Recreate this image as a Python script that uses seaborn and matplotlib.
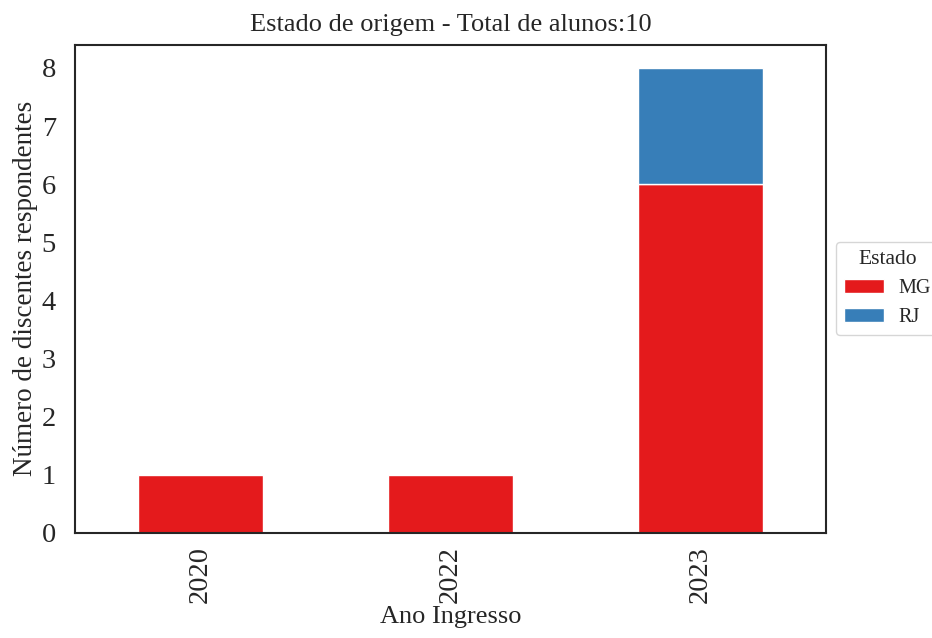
import pandas as pd
import matplotlib.pyplot as plt
import seaborn as sns
from matplotlib.ticker import MultipleLocator

# Dados
anos = ['2020', '2022', '2023']
mg = [1, 1, 6]
rj = [0, 0, 2]

sns.set_theme(style='white', palette='Set1')
plt.rcParams['font.family'] = ['Liberation Serif', 'DejaVu Serif']

df = pd.DataFrame({'MG': mg, 'RJ': rj}, index=anos)
df.index.name = 'Ano Ingresso'

fig, ax = plt.subplots(figsize=(9.32, 6.38), dpi=100)
df.plot(kind='bar', stacked=True, ax=ax, color=sns.color_palette('Set1', 2),
        edgecolor='white', linewidth=1)

ax.set_title('Estado de origem - Total de alunos:10', fontsize=19, pad=10)
ax.set_xlabel('Ano Ingresso', fontsize=19, labelpad=2)
ax.set_ylabel('Número de discentes respondentes', fontsize=19.5, labelpad=3)
ax.yaxis.set_major_locator(MultipleLocator(1))
ax.tick_params(axis='both', labelsize=20.5)
ax.tick_params(axis='y', pad=8)
for s in ax.spines.values():
    s.set_color('#262626')
    s.set_linewidth(1.5)

ax.legend(title='Estado', loc='center left', bbox_to_anchor=(1.0, 0.5),
          fontsize=14.5, title_fontsize=15.5, handletextpad=0.7)

plt.subplots_adjust(left=0.081, right=0.886, top=0.93, bottom=0.165)
plt.savefig('out.png', dpi=100)
